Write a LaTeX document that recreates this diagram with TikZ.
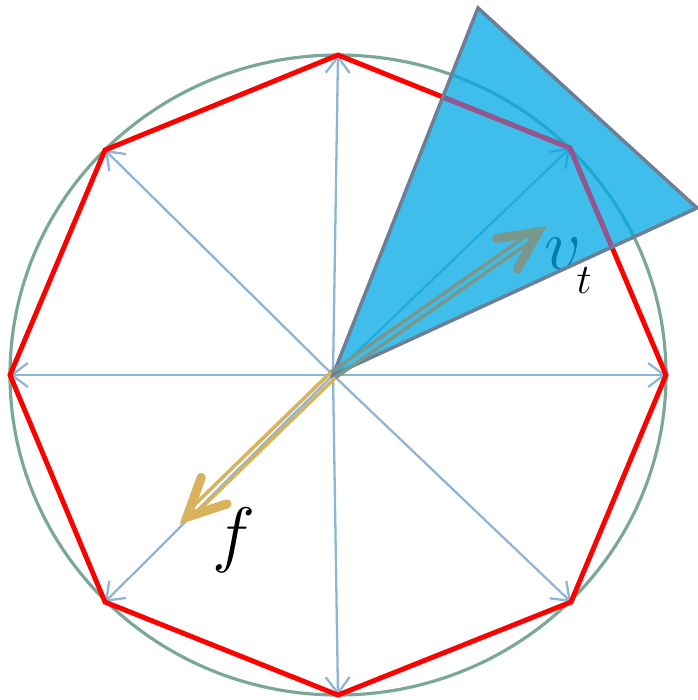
\documentclass[tikz,border=0pt]{standalone}
\usetikzlibrary{arrows.meta,calc}

\definecolor{ringgreen}{RGB}{122,168,152}
\definecolor{spokeblue}{RGB}{143,180,212}
\definecolor{conefill}{RGB}{0,168,228}
\definecolor{coneedge}{RGB}{107,128,150}
\definecolor{vgrey}{RGB}{120,152,142}
\definecolor{fgold}{RGB}{218,178,92}
\definecolor{edgepurple}{RGB}{150,85,140}

\newcommand{\rail}[3]{
  \draw[#3] ($(#1)!1pt!90:(#2)$) -- ($(#2)!1pt!-90:(#1)$);
  \draw[#3] ($(#1)!1pt!-90:(#2)$) -- ($(#2)!1pt!90:(#1)$);}
\newcommand{\chev}[3]{\draw[#3,line width=2.6pt,line cap=round,line join=miter]
  ($(#1)!12pt!26:(#2)$) -- (#1) -- ($(#1)!12pt!-26:(#2)$);}

\begin{document}
\begin{tikzpicture}[x=0.1mm,y=-0.1mm,
  ring/.style={ringgreen,line width=0.9pt},
  spoke/.style={spokeblue,line width=0.65pt,-{Straight Barb[length=1.6mm,width=2.4mm]}},
  octa/.style={red,line width=1.4pt,line join=miter},
  cone/.style={coneedge,line width=1pt,line join=miter},
  lab/.style={inner sep=0pt}]
  \useasboundingbox (0,0) rectangle (697,700);
  \coordinate (o) at (333,375);
  \foreach \n/\x/\y in {p1/338/55,p2/105/150,p3/10/375,p4/105/602,p5/338/695,p6/571/602,p7/666/375,p8/570/148}
    \coordinate (\n) at (\x,\y);
  \coordinate (ca) at (478,8);
  \coordinate (cb) at (697,208);
  \coordinate (vtip) at (538,232);
  \coordinate (ftip) at (187,517);
  \draw[ring] (338,375) ellipse (328 and 320);
  \foreach \i in {1,...,8} \draw[spoke] (o) -- (p\i);
  \draw[octa] (p1) -- (p2) -- (p3) -- (p4) -- (p5) -- (p6) -- (p7) -- (p8) -- cycle;
  \node[lab,font=\huge] (vlab) at (563,254) {$v$};
  \node[lab,font=\large] (tlab) at (584,281) {$t$};
  \fill[conefill,fill opacity=.75] (o) -- (ca) -- (cb) -- cycle;
  \begin{scope}
    \clip (o) -- (ca) -- (cb) -- cycle;
    \draw[octa,edgepurple] (p1) -- (p8) -- (p7);
  \end{scope}
  \draw[cone] (o) -- (ca) -- (cb) -- cycle;
  \rail{o}{vtip}{vgrey,line width=1pt}
  \chev{vtip}{o}{vgrey}
  \rail{o}{ftip}{fgold,line width=1pt}
  \chev{ftip}{o}{fgold}
  \node[lab,font=\huge] (flab) at (234,540) {$f$};
\end{tikzpicture}
\end{document}
